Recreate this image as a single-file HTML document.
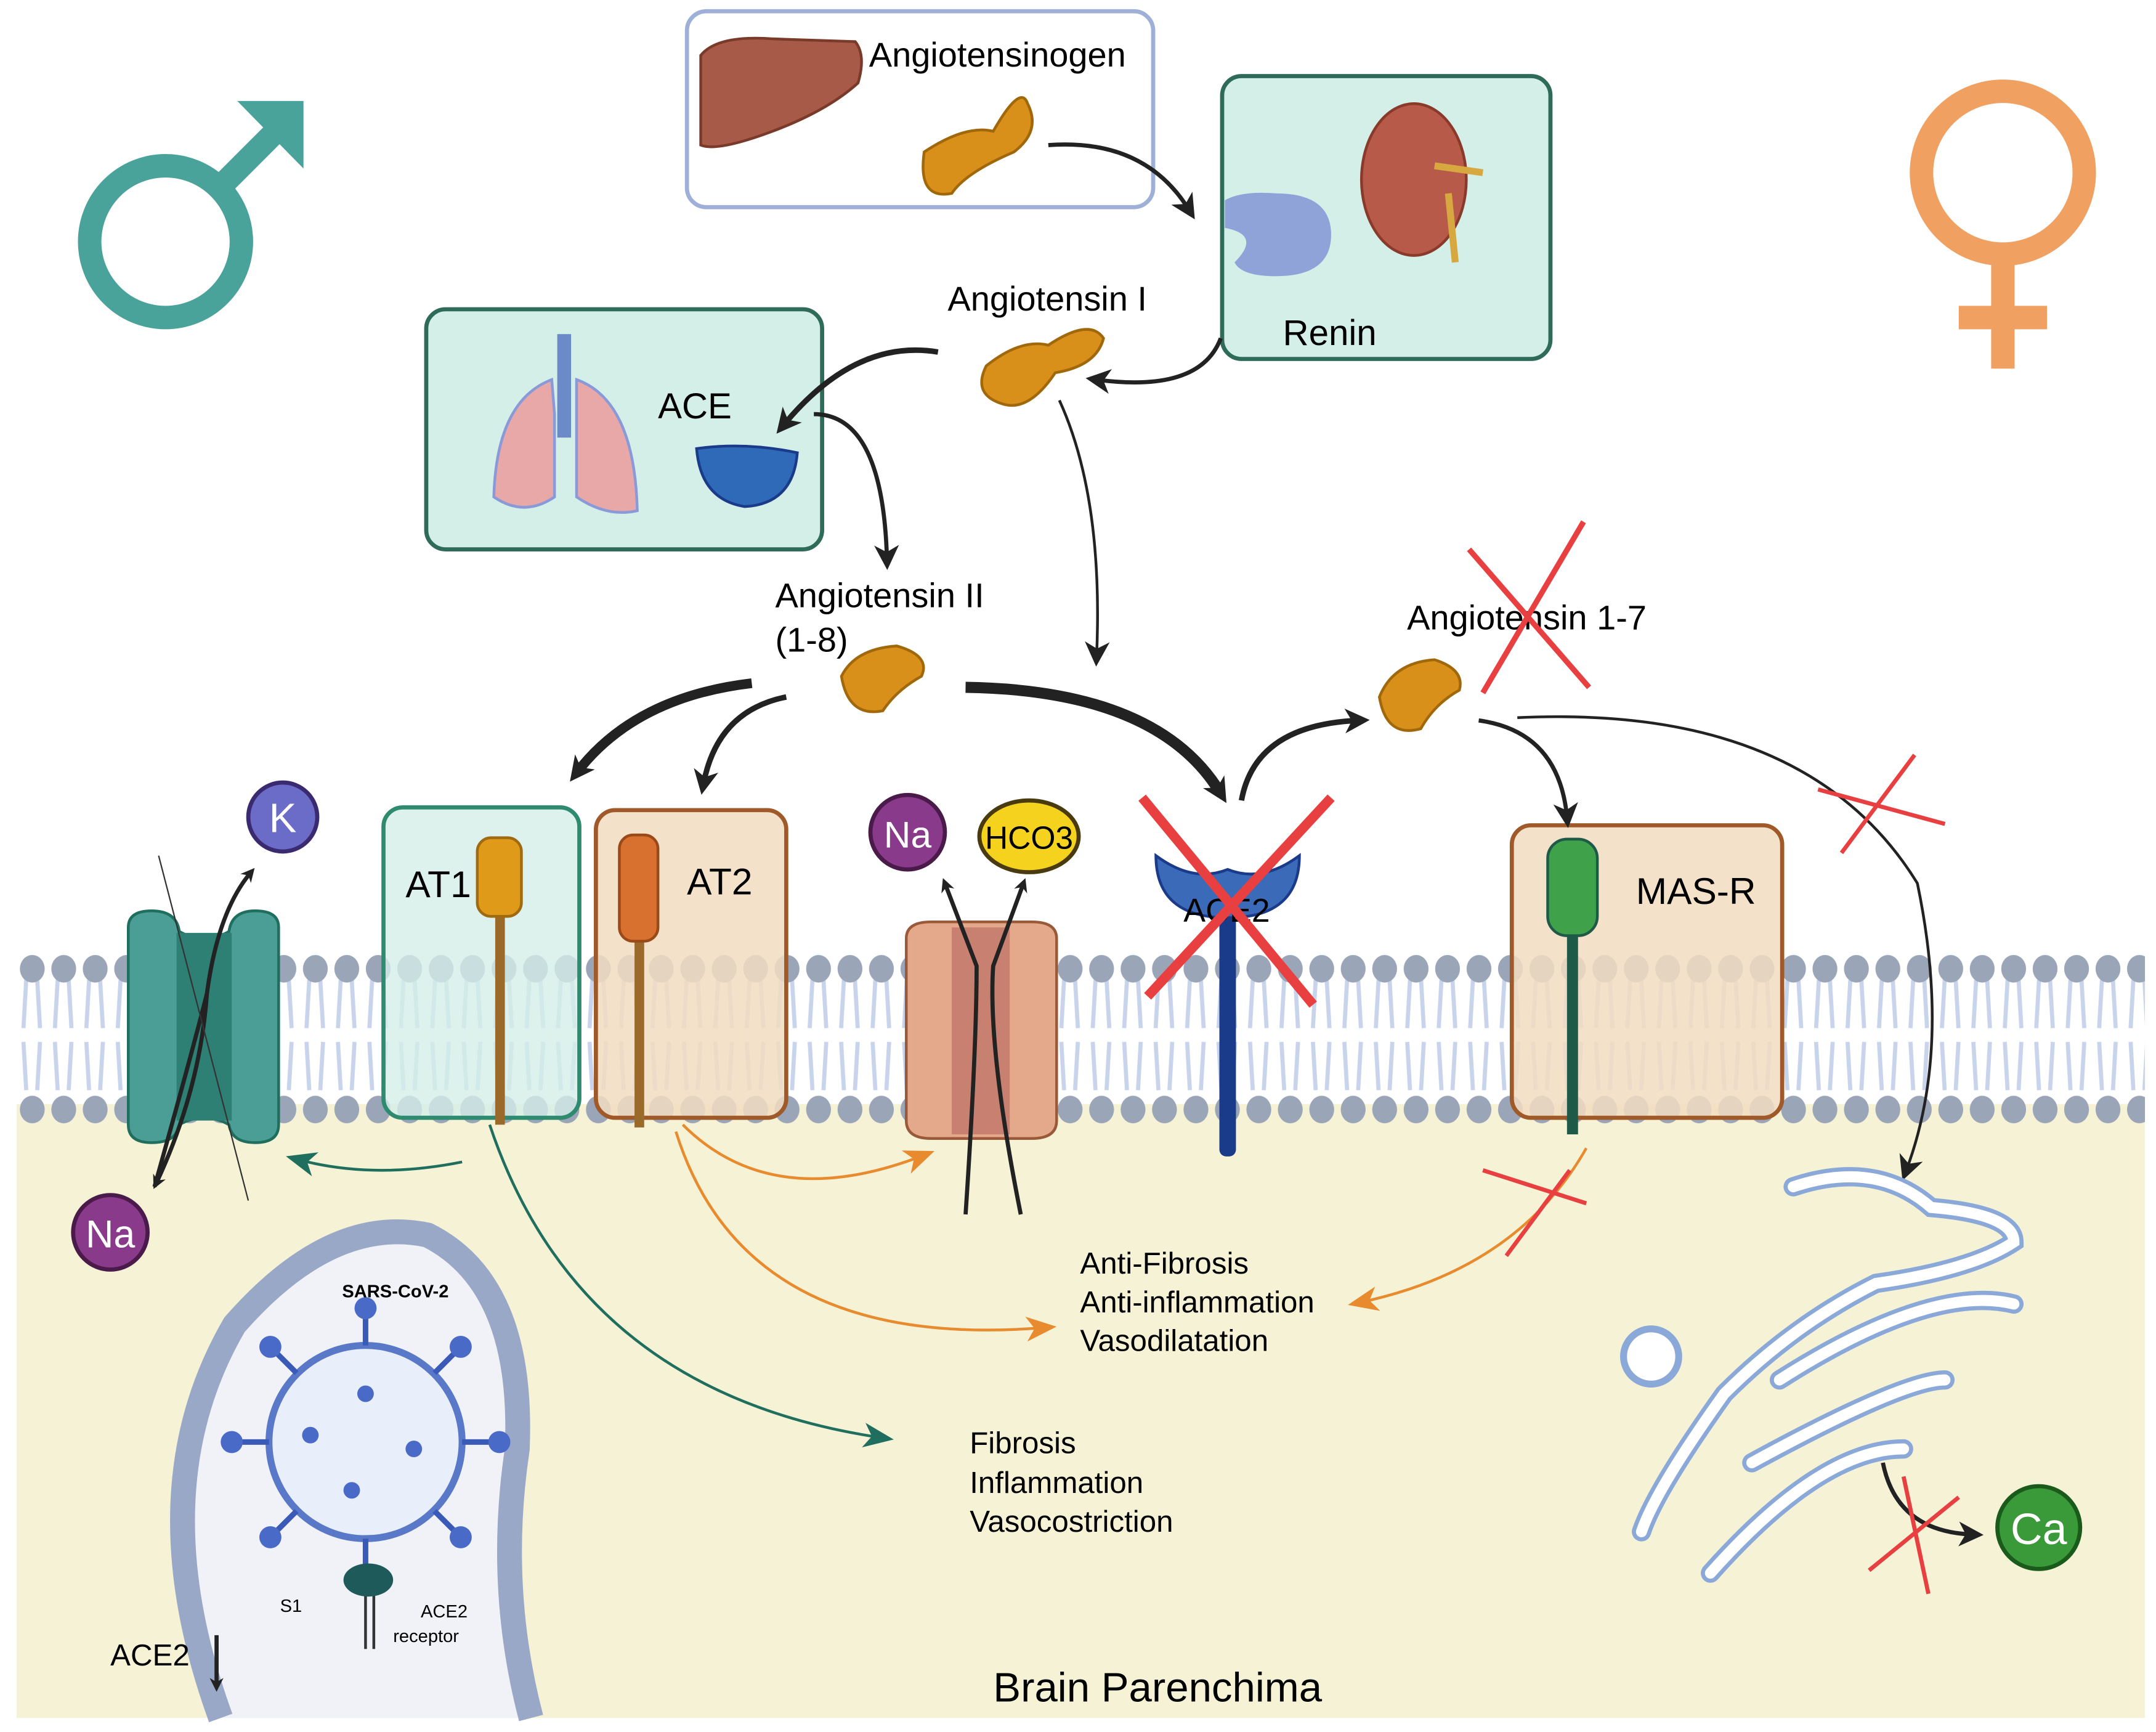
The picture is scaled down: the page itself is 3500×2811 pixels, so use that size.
<!DOCTYPE html>
<html><head><meta charset="utf-8"><style>html,body{margin:0;padding:0;background:#fff}svg{display:block}text{font-family:"Liberation Sans",sans-serif}</style></head><body>
<svg width="3500" height="2811" viewBox="0 0 1563 1255" xmlns="http://www.w3.org/2000/svg">
<defs>
<marker id="ak" markerWidth="10" markerHeight="10" refX="6" refY="5" orient="auto" markerUnits="userSpaceOnUse"><path d="M0,0 L10,5 L0,10 L3,5z" fill="#222"/></marker>
<marker id="ak2" markerWidth="18" markerHeight="18" refX="10" refY="9" orient="auto" markerUnits="userSpaceOnUse"><path d="M0,0 L18,9 L0,18 L5,9z" fill="#222"/></marker>
<marker id="ao" markerWidth="22" markerHeight="18" refX="14" refY="9" orient="auto" markerUnits="userSpaceOnUse"><path d="M0,0 L22,9 L0,18 L6,9z" fill="#e88a2e"/></marker>
<marker id="ag" markerWidth="22" markerHeight="18" refX="14" refY="9" orient="auto" markerUnits="userSpaceOnUse"><path d="M0,0 L22,9 L0,18 L6,9z" fill="#1f6e5e"/></marker>
<pattern id="headsT" x="12" y="690" width="22.8" height="24" patternUnits="userSpaceOnUse"><ellipse cx="11.4" cy="12" rx="9" ry="10" fill="#9aa5b8"/></pattern>
<pattern id="headsB" x="12" y="792" width="22.8" height="24" patternUnits="userSpaceOnUse"><ellipse cx="11.4" cy="12" rx="9" ry="10" fill="#9aa5b8"/></pattern>
<pattern id="tails" x="12" y="700" width="22.8" height="100" patternUnits="userSpaceOnUse"><path d="M7,10 L5,45 M15,10 L17,45 M5,55 L7,90 M17,55 L15,90" stroke="#c8d4ec" stroke-width="3" fill="none"/></pattern>
</defs>
<rect width="1563" height="1255" fill="#fff"/>
<rect x="12" y="800" width="1543" height="445" fill="#f5f2d6"/>
<!-- membrane -->
<rect x="12" y="700" width="1543" height="100" fill="url(#tails)"/>
<rect x="12" y="690" width="1543" height="24" fill="url(#headsT)"/>
<rect x="12" y="792" width="1543" height="24" fill="url(#headsB)"/>
<!-- receptor boxes -->
<rect x="278" y="585" width="142" height="225" rx="14" fill="#d4eee8" fill-opacity="0.8" stroke="#2e8b70" stroke-width="3"/>
<rect x="432" y="587" width="138" height="223" rx="14" fill="#f2dcc0" fill-opacity="0.85" stroke="#a05a2a" stroke-width="3"/>
<rect x="1096" y="598" width="196" height="212" rx="14" fill="#f2dcc0" fill-opacity="0.85" stroke="#a05a2a" stroke-width="3"/>
<text x="294" y="650" font-size="27">AT1</text>
<text x="498" y="648" font-size="27">AT2</text>
<text x="1186" y="655" font-size="27">MAS-R</text>
<rect x="359" y="655" width="7" height="160" fill="#9a6a2a"/>
<rect x="346" y="607" width="32" height="57" rx="10" fill="#e09a1a" stroke="#a06a10" stroke-width="2"/>
<rect x="460" y="680" width="7" height="137" fill="#9a6a2a"/>
<rect x="449" y="605" width="28" height="77" rx="10" fill="#d87030" stroke="#9a4a18" stroke-width="2"/>
<rect x="1136" y="670" width="8" height="152" fill="#1f5a48"/>
<rect x="1122" y="608" width="36" height="70" rx="14" fill="#3fa14a" stroke="#1f5a48" stroke-width="2"/>
<!-- K channel -->
<path d="M93,672 Q93,660 110,660 Q128,660 130,675 Q148,685 166,675 Q168,660 185,660 Q202,660 202,672 L202,815 Q202,828 185,828 Q168,828 166,815 Q148,805 130,815 Q128,828 110,828 Q93,828 93,815z" fill="#4a9e95" stroke="#1f6e5e" stroke-width="2"/>
<rect x="128" y="676" width="40" height="136" fill="#2f8074"/>
<path d="M112,860 Q140,760 150,720 Q158,660 182,632" stroke="#222" stroke-width="3" fill="none" marker-end="url(#ak)"/>
<path d="M150,720 Q145,790 113,858" stroke="#222" stroke-width="3" fill="none" marker-end="url(#ak)"/>
<path d="M115,620 L180,870" stroke="#333" stroke-width="1" fill="none"/>
<circle cx="205" cy="592" r="25" fill="#6b6bc8" stroke="#3a2a70" stroke-width="3"/><text x="205" y="603" font-size="30" fill="#fff" text-anchor="middle">K</text>
<circle cx="80" cy="893" r="27" fill="#8a3a8a" stroke="#4a1a4a" stroke-width="3"/><text x="80" y="904" font-size="28" fill="#fff" text-anchor="middle">Na</text>
<!-- Na/HCO3 channel -->
<path d="M657,680 Q657,668 675,668 L748,668 Q766,668 766,680 L766,812 Q766,825 748,825 L675,825 Q657,825 657,812z" fill="#e4a98a" stroke="#9a5a3a" stroke-width="2"/>
<rect x="690" y="672" width="42" height="150" fill="#c88070"/>
<path d="M700,880 Q708,760 708,700 L685,640" stroke="#222" stroke-width="3" fill="none" marker-end="url(#ak)"/>
<path d="M740,880 Q716,760 720,700 L742,640" stroke="#222" stroke-width="3" fill="none" marker-end="url(#ak)"/>
<circle cx="658" cy="603" r="27" fill="#8a3a8a" stroke="#4a1a4a" stroke-width="3"/><text x="658" y="614" font-size="27" fill="#fff" text-anchor="middle">Na</text>
<ellipse cx="746" cy="606" rx="36" ry="26" fill="#f5d21e" stroke="#4a3a10" stroke-width="3"/><text x="746" y="615" font-size="23" text-anchor="middle">HCO3</text>
<!-- ACE2 -->
<rect x="884" y="660" width="12" height="178" rx="5" fill="#1a3a8a"/>
<path d="M838,620 Q838,665 890,665 Q942,665 942,620 Q915,640 890,630 Q865,640 838,620z" fill="#3a6ab8" stroke="#1a3a8a" stroke-width="2"/>
<text x="858" y="668" font-size="24">ACE2</text>
<path d="M828,578 L952,728 M965,578 L832,722" stroke="#e84040" stroke-width="7"/>
<!-- top boxes -->
<rect x="498" y="8" width="338" height="142" rx="14" fill="#fff" stroke="#9fb0d8" stroke-width="3"/>
<path d="M508,40 Q520,25 560,28 L620,30 Q628,40 622,60 Q600,80 560,95 Q520,110 508,105z" fill="#a85a48" stroke="#7a3a2a" stroke-width="2"/>
<text x="630" y="48" font-size="25">Angiotensinogen</text>
<path d="M670,110 Q700,90 720,95 Q740,60 745,75 Q755,95 735,110 Q700,125 690,140 Q665,145 670,110z" fill="#d8901a" stroke="#a0680a" stroke-width="2"/>
<rect x="886" y="55" width="238" height="205" rx="14" fill="#d4eee8" stroke="#2e6b58" stroke-width="3"/>
<path d="M888,145 Q900,138 925,140 Q965,140 965,170 Q965,200 925,200 Q900,200 895,190 Q915,170 888,165z" fill="#8fa3d8"/>
<ellipse cx="1025" cy="130" rx="38" ry="55" fill="#b85a4a" stroke="#8a3a2a" stroke-width="2"/>
<path d="M1040,120 L1075,125 M1050,140 L1055,190" stroke="#d8a840" stroke-width="5"/>
<text x="930" y="250" font-size="26">Renin</text>
<rect x="309" y="224" width="287" height="174" rx="14" fill="#d4eee8" stroke="#2e6b58" stroke-width="3"/>
<path d="M400,275 Q360,290 358,360 Q380,375 402,360 L402,300z M418,275 Q460,290 462,370 Q440,375 418,360 L418,300z" fill="#e8a8a8" stroke="#8a9ad8" stroke-width="2"/>
<rect x="404" y="242" width="10" height="75" fill="#6a8ac8"/>
<text x="477" y="303" font-size="26">ACE</text>
<path d="M505,325 Q540,320 578,328 Q575,365 540,367 Q508,362 505,325z" fill="#2f6ab8" stroke="#1a3a8a" stroke-width="2"/>
<!-- peptides -->
<path d="M715,265 Q740,245 760,250 Q790,230 800,245 Q795,265 765,270 Q745,300 725,292 Q705,285 715,265z" fill="#d8901a" stroke="#a0680a" stroke-width="2"/>
<text x="687" y="225" font-size="25">Angiotensin I</text>
<path d="M610,490 Q620,470 650,468 Q675,475 668,490 Q650,500 640,515 Q615,520 610,490z" fill="#d8901a" stroke="#a0680a" stroke-width="2"/>
<text x="562" y="440" font-size="25">Angiotensin II</text><text x="562" y="472" font-size="25">(1-8)</text>
<path d="M1000,505 Q1010,480 1040,478 Q1062,485 1058,500 Q1040,510 1030,528 Q1005,535 1000,505z" fill="#d8901a" stroke="#a0680a" stroke-width="2"/>
<text x="1020" y="456" font-size="25">Angiotensin 1-7</text>
<path d="M1065,398 L1152,498 M1148,378 L1075,502" stroke="#e84040" stroke-width="4"/>
<!-- arrows -->
<path d="M760,105 Q830,100 862,152" stroke="#222" stroke-width="3" fill="none" marker-end="url(#ak2)"/>
<path d="M885,245 Q870,285 795,275" stroke="#222" stroke-width="3" fill="none" marker-end="url(#ak2)"/>
<path d="M680,255 Q620,245 568,308" stroke="#222" stroke-width="4" fill="none" marker-end="url(#ak2)"/>
<path d="M590,300 Q640,300 643,405" stroke="#222" stroke-width="3" fill="none" marker-end="url(#ak2)"/>
<path d="M768,290 Q800,360 795,475" stroke="#222" stroke-width="2" fill="none" marker-end="url(#ak2)"/>
<path d="M545,495 Q460,505 418,560" stroke="#222" stroke-width="7" fill="none" marker-end="url(#ak2)"/>
<path d="M570,505 Q520,515 510,568" stroke="#222" stroke-width="4" fill="none" marker-end="url(#ak2)"/>
<path d="M700,498 Q840,500 885,575" stroke="#222" stroke-width="8" fill="none" marker-end="url(#ak2)"/>
<path d="M900,580 Q910,525 985,522" stroke="#222" stroke-width="4" fill="none" marker-end="url(#ak2)"/>
<path d="M1072,522 Q1130,530 1136,592" stroke="#222" stroke-width="3" fill="none" marker-end="url(#ak2)"/>
<path d="M1100,520 Q1310,510 1390,640 Q1415,760 1382,848" stroke="#222" stroke-width="2" fill="none" marker-end="url(#ak2)"/>
<path d="M1318,572 L1410,597 M1388,547 L1335,618" stroke="#e84040" stroke-width="3"/>
<!-- intracellular arrows -->
<path d="M335,842 Q270,855 215,840" stroke="#1f6e5e" stroke-width="2" fill="none" marker-end="url(#ag)"/>
<path d="M355,815 Q420,1010 640,1042" stroke="#1f6e5e" stroke-width="2" fill="none" marker-end="url(#ag)"/>
<path d="M495,815 Q560,880 670,837" stroke="#e88a2e" stroke-width="2" fill="none" marker-end="url(#ao)"/>
<path d="M490,820 Q540,980 758,962" stroke="#e88a2e" stroke-width="2" fill="none" marker-end="url(#ao)"/>
<path d="M1150,832 Q1100,920 985,944" stroke="#e88a2e" stroke-width="2" fill="none" marker-end="url(#ao)"/>
<path d="M1075,848 L1150,872 M1138,848 L1092,910" stroke="#e84040" stroke-width="3"/>
<text x="783" y="923" font-size="22">Anti-Fibrosis</text>
<text x="783" y="951" font-size="22">Anti-inflammation</text>
<text x="783" y="979" font-size="22">Vasodilatation</text>
<text x="703" y="1053" font-size="22">Fibrosis</text>
<text x="703" y="1082" font-size="22">Inflammation</text>
<text x="703" y="1110" font-size="22">Vasocostriction</text>
<text x="720" y="1233" font-size="30">Brain Parenchima</text>
<!-- ER -->
<g fill="none" stroke="#8aa8d8" stroke-width="14" stroke-linecap="round">
<path d="M1300,860 Q1360,840 1400,875 Q1460,880 1460,900 Q1430,920 1360,930 Q1300,960 1250,1010 Q1200,1080 1190,1110"/>
<path d="M1290,1000 Q1400,930 1460,945"/>
<path d="M1270,1060 Q1380,1000 1410,1000"/>
<path d="M1240,1140 Q1320,1050 1380,1050"/>
</g>
<g fill="none" stroke="#fff" stroke-width="8" stroke-linecap="round">
<path d="M1300,860 Q1360,840 1400,875 Q1460,880 1460,900 Q1430,920 1360,930 Q1300,960 1250,1010 Q1200,1080 1190,1110"/>
<path d="M1290,1000 Q1400,930 1460,945"/>
<path d="M1270,1060 Q1380,1000 1410,1000"/>
<path d="M1240,1140 Q1320,1050 1380,1050"/>
</g>
<circle cx="1197" cy="983" r="20" fill="#fff" stroke="#8aa8d8" stroke-width="5"/>
<path d="M1365,1060 Q1375,1110 1430,1112" stroke="#222" stroke-width="3" fill="none" marker-end="url(#ak2)"/>
<path d="M1355,1138 L1420,1085 M1380,1070 L1398,1155" stroke="#e84040" stroke-width="3"/>
<circle cx="1478" cy="1107" r="30" fill="#3a9a3a" stroke="#1a5a1a" stroke-width="3"/><text x="1478" y="1119" font-size="32" fill="#fff" text-anchor="middle">Ca</text>
<!-- virus vesicle -->
<path d="M160,1245 Q100,1080 170,960 Q240,880 310,895 Q380,930 375,1050 Q360,1150 385,1245" fill="#f0f2f8" stroke="#9aa8c8" stroke-width="18"/>
<circle cx="265" cy="1045" r="70" fill="#e8eefa" stroke="#5a78c8" stroke-width="5"/>
<g stroke="#3a5ab8" stroke-width="4">
<path d="M265,975 L265,950 M265,1115 L265,1135 M195,1045 L170,1045 M335,1045 L360,1045 M215,995 L198,978 M315,995 L332,978 M215,1095 L198,1112 M315,1095 L332,1112"/>
</g>
<g fill="#4a6ac8"><circle cx="265" cy="948" r="8"/><circle cx="168" cy="1045" r="8"/><circle cx="362" cy="1045" r="8"/><circle cx="196" cy="976" r="8"/><circle cx="334" cy="976" r="8"/><circle cx="196" cy="1114" r="8"/><circle cx="334" cy="1114" r="8"/><circle cx="225" cy="1040" r="6"/><circle cx="265" cy="1010" r="6"/><circle cx="300" cy="1050" r="6"/><circle cx="255" cy="1080" r="6"/></g>
<path d="M265,1135 L265,1195 M271,1135 L271,1195" stroke="#333" stroke-width="2"/>
<ellipse cx="267" cy="1145" rx="18" ry="12" fill="#1f5a5a"/>
<text x="248" y="940" font-size="13" font-weight="bold">SARS-CoV-2</text>
<text x="203" y="1168" font-size="13">S1</text>
<text x="305" y="1172" font-size="13">ACE2</text><text x="285" y="1190" font-size="13">receptor</text>
<text x="80" y="1207" font-size="22">ACE2</text>
<path d="M157,1185 L157,1222" stroke="#222" stroke-width="3" marker-end="url(#ak)"/>
<!-- gender symbols -->
<circle cx="120" cy="175" r="55" fill="none" stroke="#4aa39a" stroke-width="17"/>
<path d="M160,135 L210,85" stroke="#4aa39a" stroke-width="17"/>
<path d="M172,73 L220,73 L220,122z" fill="#4aa39a"/>
<circle cx="1452" cy="125" r="59" fill="none" stroke="#f0a060" stroke-width="17"/>
<path d="M1452,184 L1452,267 M1420,230 L1484,230" stroke="#f0a060" stroke-width="17"/>
</svg>
</body></html>
